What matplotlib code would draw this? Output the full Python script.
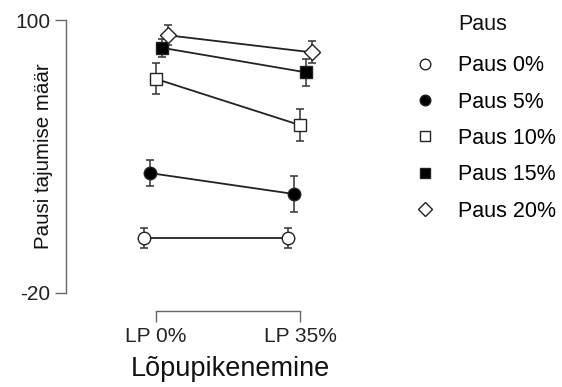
import matplotlib

matplotlib.use("Agg")
import numpy as np
import matplotlib.pyplot as plt

plt.rcParams['font.family'] = ['Liberation Sans', 'DejaVu Sans']
plt.rcParams['axes.unicode_minus'] = False

# data
conditions = ["LP 0%", "LP 35%"]
series = ["Paus 0%", "Paus 5%", "Paus 10%", "Paus 15%", "Paus 20%"]
means = {
    "Paus 0%": [4.2, 4.2],
    "Paus 5%": [32.7, 23.5],
    "Paus 10%": [74.1, 53.8],
    "Paus 15%": [87.8, 77.0],
    "Paus 20%": [93.3, 85.8],
}
errors = {
    "Paus 0%": [4.3, 4.3],
    "Paus 5%": [5.7, 8.1],
    "Paus 10%": [6.8, 7.0],
    "Paus 15%": [4.0, 6.0],
    "Paus 20%": [4.4, 4.8],
}
markers = {"Paus 0%": "o", "Paus 5%": "o", "Paus 10%": "s", "Paus 15%": "s", "Paus 20%": "D"}
fills = {"Paus 0%": "white", "Paus 5%": "black", "Paus 10%": "white", "Paus 15%": "black", "Paus 20%": "white"}
sizes = {"o": 9, "s": 8.5, "D": 8.5}

fig = plt.figure(figsize=(5.62, 3.87), dpi=100)
W, H = 562, 387
ax = fig.add_axes([80 / W, (H - 293) / H, 300 / W, 273 / H])

x = np.arange(1, len(conditions) + 1)
dodge = np.linspace(-0.08, 0.08, len(series))

handles = []
for i, s in enumerate(series):
    xs = x + dodge[i]
    ax.errorbar(xs, means[s], yerr=errors[s], fmt="none", ecolor="#333333",
                elinewidth=1.1, capsize=3, capthick=1.1, zorder=2)
    ax.plot(xs, means[s], color="#222222", lw=1.3, zorder=3)
    h, = ax.plot(xs, means[s], ls="none", marker=markers[s], ms=sizes[markers[s]],
                 mfc=fills[s], mec="#222222", mew=1.0, zorder=4, label=s)
    handles.append(h)

ax.set_ylim(-20, 100)
ax.set_xlim(1 - 76 / 144, 2 + 80 / 144)
ax.set_yticks([-20, 100])
ax.set_xticks(x)
ax.set_xticklabels(conditions)

for side in ["top", "right"]:
    ax.spines[side].set_visible(False)
ax.spines["left"].set_position(("outward", 10))
ax.spines["bottom"].set_position(("outward", 13))
ax.spines["left"].set_bounds(-20, 100)
ax.spines["bottom"].set_bounds(1, 2)
for side in ["left", "bottom"]:
    ax.spines[side].set_color("#666666")
    ax.spines[side].set_linewidth(1.0)
ax.tick_params(colors="#666666", labelcolor="#222222", labelsize=15, length=8, width=1.0)

ax.set_ylabel("Pausi tajumise määr", fontsize=14.8, color="#111111")
ax.yaxis.set_label_coords((53 - 80) / 300, 0.5)
ax.set_xlabel("Lõpupikenemine", fontsize=19.5, color="#111111", labelpad=7)

leg = fig.legend(handles=handles, loc="upper left",
                 bbox_to_anchor=(394 / W, 1 - 36 / H), frameon=False,
                 fontsize=15.5, labelspacing=0.71, handlelength=1.1,
                 handletextpad=0.98, markerscale=0.85)
fig.text(458 / W, 1 - 25 / H, "Paus", fontsize=15.5, color="#111111",
         ha="left", va="center")

fig.savefig("out.png", dpi=100)
